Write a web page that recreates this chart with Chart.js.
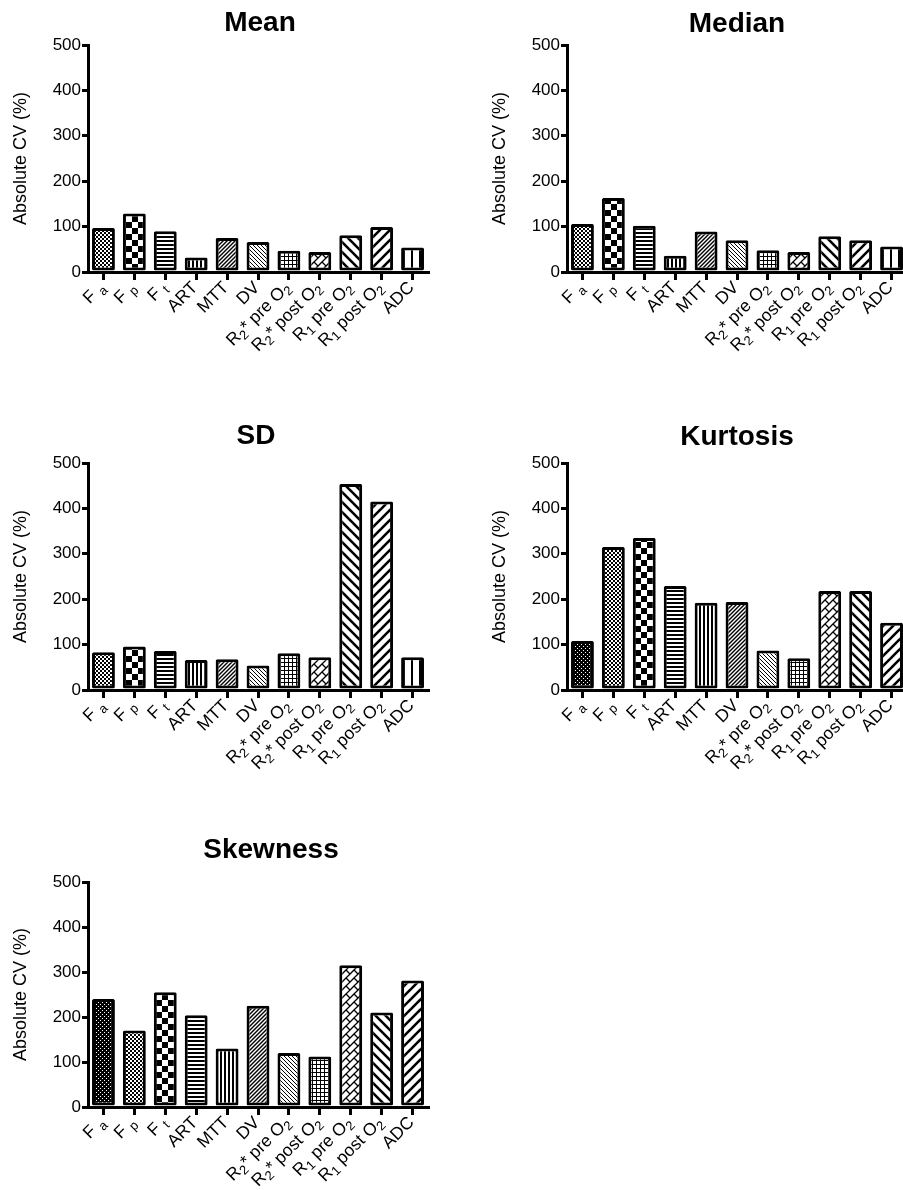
<!DOCTYPE html>
<html>
<head>
<meta charset="utf-8">
<script src="https://cdn.jsdelivr.net/npm/chart.js@4.4.1/dist/chart.umd.min.js"></script>
<style>
html,body{margin:0;padding:0;background:#fff;overflow:hidden;width:903px;height:1190px;position:relative}
canvas{position:absolute;display:block}
</style>
</head>
<body>
<canvas id="c0"></canvas>
<canvas id="c1"></canvas>
<canvas id="c2"></canvas>
<canvas id="c3"></canvas>
<canvas id="c4"></canvas>
<script>
// ---------- data ----------
const categories = ['F _a','F _p','F _t','ART','MTT','DV','R_2* pre O_2','R_2* post O_2','R_1 pre O_2','R_1 post O_2','ADC'];
const yTicks = [0, 100, 200, 300, 400, 500];
const yAxisTitle = 'Absolute CV (%)';
const panelTitles = ['Mean', 'Median', 'SD', 'Kurtosis', 'Skewness'];
const meanValues     = [97, 129, 90, 32, 75, 66, 47, 44, 81, 99, 54];
const medianValues   = [106, 163, 102, 36, 89, 70, 48, 44, 79, 70, 56];
const sdValues       = [83, 96, 86, 66, 68, 54, 81, 72, 454, 415, 72];
const kurtosisValues = [108, 315, 335, 229, 192, 194, 87, 70, 218, 218, 148];
const skewnessValues = [240, 170, 255, 204, 130, 225, 120, 112, 315, 210, 281];

// ---------- styles ----------
const FONT = '"Liberation Sans", Arial, Helvetica, sans-serif';
const patternSetA = ['fineChecker','bigChecker','hLines','vLines','diagDense','backDiag','grid','brick','backWide','diagWide','vWide'];
const patternSetB = ['darkDots','fineChecker','bigChecker','hLines','vLines','diagDense','backDiag','grid','brick','backWide','diagWide'];

function tile(size, draw){
  const c = document.createElement('canvas');
  c.width = size; c.height = size;
  const g = c.getContext('2d');
  g.fillStyle = '#fff'; g.fillRect(0,0,size,size);
  g.fillStyle = '#000'; g.strokeStyle = '#000';
  draw(g, size);
  return c;
}
function diag(g, p, lw, dir){
  g.lineWidth = lw;
  for (let k = -2; k <= 2; k++){
    g.beginPath();
    if (dir > 0){ g.moveTo(k*p - p, 2*p); g.lineTo(k*p + 2*p, -p); }
    else { g.moveTo(k*p - p, -p); g.lineTo(k*p + 2*p, 2*p); }
    g.stroke();
  }
}
const tileMakers = {
  fineChecker: () => tile(4, g => { g.fillRect(0,0,2,2); g.fillRect(2,2,2,2); }),
  bigChecker:  () => tile(12, g => { g.fillRect(0,0,6,6); g.fillRect(6,6,6,6); }),
  darkDots:    () => tile(4, g => { g.fillRect(0,0,4,4); g.fillStyle='#fff'; g.fillRect(0,0,1,1); g.fillRect(2,2,1,1); }),
  hLines:      () => tile(4, g => { g.fillRect(0,0,4,2); }),
  vLines:      () => tile(4, g => { g.fillRect(0,0,2,4); }),
  diagDense:   () => tile(4, (g,p) => diag(g,p,1.4,1)),
  backDiag:    () => tile(4, (g,p) => diag(g,p,1.0,-1)),
  grid:        () => tile(4, g => { g.fillRect(0,0,4,1); g.fillRect(0,0,1,4); }),
  brick:       () => tile(8, (g,p) => {
                   diag(g,p,1.3,1);
                   g.lineWidth = 1.3;
                   for (const dx of [-8,0,8]) for (const dy of [-8,0,8]){
                     g.beginPath(); g.moveTo(2+dx,-2+dy); g.lineTo(6+dx,2+dy); g.stroke();
                   }
                 }),
  backWide:    () => tile(10, (g,p) => diag(g,p,2.6,-1)),
  diagWide:    () => tile(10, (g,p) => diag(g,p,2.6,1)),
  vWide:       () => tile(8, g => { g.fillRect(3,0,2,8); })
};
const patternCache = {};
function pattern(name, ctx){
  if (!patternCache[name]) patternCache[name] = ctx.createPattern(tileMakers[name](), 'repeat');
  return patternCache[name];
}

// ---------- rich label drawing ----------
function parseLabel(lab){
  const segs = []; let buf = ''; let i = 0;
  while (i < lab.length){
    if (lab[i] === '_'){
      if (buf){ segs.push({t:buf, sub:false}); buf=''; }
      segs.push({t:lab[i+1], sub:true}); i += 2;
    } else { buf += lab[i]; i++; }
  }
  if (buf) segs.push({t:buf, sub:false});
  return segs;
}
function drawRich(ctx, lab, ax, ay){
  const segs = parseLabel(lab);
  const nf = '17.5px ' + FONT, sf = '13px ' + FONT;
  let W = 0;
  segs.forEach(s => { ctx.font = s.sub ? sf : nf; s.w = ctx.measureText(s.t).width; W += s.w; });
  ctx.save();
  ctx.translate(ax, ay);
  ctx.rotate(-Math.PI/4);
  ctx.textAlign = 'left';
  ctx.textBaseline = 'middle';
  let x = -W;
  segs.forEach(s => { ctx.font = s.sub ? sf : nf; ctx.fillText(s.t, x, s.sub ? 5 : 0); x += s.w; });
  ctx.restore();
}

const decor = {
  id: 'decor',
  afterDraw(chart, args, opts){
    const ctx = chart.ctx, ca = chart.chartArea, xs = chart.scales.x;
    ctx.save();
    ctx.fillStyle = '#000';
    ctx.font = 'bold 28px ' + FONT;
    ctx.textAlign = 'center'; ctx.textBaseline = 'middle';
    ctx.fillText(opts.title, opts.titleX, opts.titleY);
    ctx.save();
    ctx.translate(ca.left - 67, (ca.top + ca.bottom) / 2);
    ctx.rotate(-Math.PI/2);
    ctx.font = '18px ' + FONT;
    ctx.fillText(yAxisTitle, 0, 0);
    ctx.restore();
    chart.data.labels.forEach((lab, i) => {
      drawRich(ctx, lab, xs.getPixelForValue(i) - 1, ca.bottom + 13);
    });
    ctx.restore();
  }
};

// ---------- panels ----------
const panels = [
  {id:'c0', title:panelTitles[0], values:meanValues,     pats:patternSetA, left:0,   top:0,   w:451, h:400, padTop:45, padRight:23, xh:128, tx:260, ty:23},
  {id:'c1', title:panelTitles[1], values:medianValues,   pats:patternSetA, left:479, top:0,   w:430, h:400, padTop:45, padRight:2,  xh:128, tx:258, ty:24},
  {id:'c2', title:panelTitles[2], values:sdValues,       pats:patternSetA, left:0,   top:410, w:451, h:410, padTop:53, padRight:23, xh:130, tx:256, ty:26},
  {id:'c3', title:panelTitles[3], values:kurtosisValues, pats:patternSetB, left:479, top:410, w:430, h:410, padTop:53, padRight:2,  xh:130, tx:258, ty:27},
  {id:'c4', title:panelTitles[4], values:skewnessValues, pats:patternSetB, left:0,   top:820, w:451, h:370, padTop:62, padRight:23, xh:83,  tx:271, ty:30}
];

panels.forEach(p => {
  const cv = document.getElementById(p.id);
  cv.width = p.w; cv.height = p.h;
  cv.style.left = p.left + 'px'; cv.style.top = p.top + 'px';
  cv.style.width = p.w + 'px'; cv.style.height = p.h + 'px';
  const ctx = cv.getContext('2d');
  new Chart(ctx, {
    type: 'bar',
    data: {
      labels: categories,
      datasets: [{
        data: p.values,
        backgroundColor: p.pats.map(n => pattern(n, ctx)),
        borderColor: '#000',
        borderWidth: 3,
        borderSkipped: false,
        borderRadius: 1.5,
        barPercentage: 0.74,
        categoryPercentage: 1.0
      }]
    },
    options: {
      responsive: false,
      animation: false,
      devicePixelRatio: 1,
      layout: { padding: { left: 0, right: p.padRight, top: p.padTop, bottom: 0 } },
      plugins: {
        legend: { display: false },
        tooltip: { enabled: false },
        decor: { title: p.title, titleX: p.tx, titleY: p.ty }
      },
      scales: {
        x: {
          offset: true,
          grid: { display: true, drawOnChartArea: false, offset: false, drawTicks: true, tickLength: 8, lineWidth: 3, color: '#000' },
          border: { display: true, width: 3, color: '#000' },
          ticks: { display: false },
          afterFit(s){ s.height = p.xh; }
        },
        y: {
          min: 0, max: 500,
          afterBuildTicks(s){ s.ticks = yTicks.map(v => ({value: v})); },
          ticks: { color: '#000', font: { family: FONT, size: 17 }, padding: 1 },
          grid: { drawOnChartArea: false, drawTicks: true, tickLength: 6, lineWidth: 3, color: '#000' },
          border: { display: true, width: 3, color: '#000' },
          afterFit(s){ s.width = 88; }
        }
      }
    },
    plugins: [decor]
  });
});
</script>
</body>
</html>
